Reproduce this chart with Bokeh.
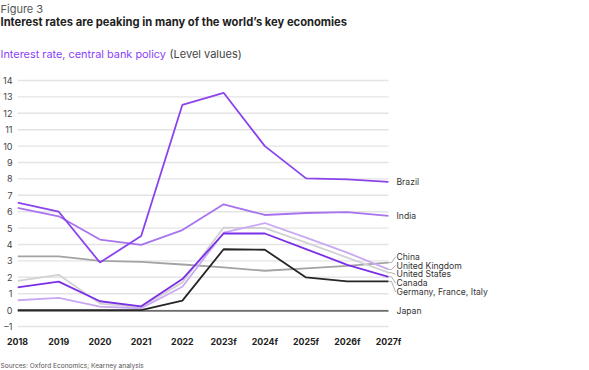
from bokeh.plotting import figure
from bokeh.layouts import column
from bokeh.models import Range1d, FixedTicker
from bokeh.core.properties import value
from bokeh.embed import file_html
from bokeh.resources import INLINE

# ---------------- data ----------------
years = [2018, 2019, 2020, 2021, 2022, 2023, 2024, 2025, 2026, 2027]
year_labels = ["2018", "2019", "2020", "2021", "2022", "2023f", "2024f", "2025f", "2026f", "2027f"]
y_ticks = [-1, 0, 1, 2, 3, 4, 5, 6, 7, 8, 9, 10, 11, 12, 13, 14]
y_tick_labels = ["\u20131", "0", "1", "2", "3", "4", "5", "6", "7", "8", "9", "10", "11", "12", "13", "14"]

brazil = [6.55, 6.0, 2.9, 4.52, 12.52, 13.25, 10.0, 8.03, 7.97, 7.82]
india = [6.24, 5.72, 4.3, 3.98, 4.88, 6.45, 5.8, 5.92, 5.98, 5.74]
china = [3.27, 3.27, 3.0, 2.94, 2.78, 2.6, 2.4, 2.55, 2.7, 2.9]
united_kingdom = [0.6, 0.74, 0.21, 0.11, 1.42, 4.72, 5.31, 4.42, 3.5, 2.48]
united_states = [1.78, 2.15, 0.4, 0.17, 1.69, 5.03, 5.0, 4.12, 3.2, 2.28]
canada = [1.38, 1.74, 0.54, 0.23, 1.89, 4.67, 4.67, 3.72, 2.76, 2.03]
germany_france_italy = [0.0, 0.0, 0.0, 0.0, 0.58, 3.71, 3.68, 1.99, 1.75, 1.75]
japan = [-0.05, -0.05, -0.05, -0.05, -0.05, -0.05, -0.05, -0.05, -0.05, -0.05]

series_names = ["Brazil", "India", "China", "United Kingdom", "United States",
                "Canada", "Germany, France, Italy", "Japan"]
series_values = [brazil, india, china, united_kingdom, united_states,
                 canada, germany_france_italy, japan]

figure_label = "Figure 3"
title_text = "Interest rates are peaking in many of the world\u2019s key economies"
subtitle_main = "Interest rate, central bank policy"
subtitle_unit = "(Level values)"
source_text = "Sources: Oxford Economics; Kearney analysis"

# ---------------- style ----------------
FONT = "Inter"
colors = {
    "Brazil": "#8b43ec",
    "India": "#a873ee",
    "China": "#a3a3a3",
    "United Kingdom": "#c9a8f4",
    "United States": "#d2d2d2",
    "Canada": "#7a2fe6",
    "Germany, France, Italy": "#262626",
    "Japan": "#6e6e6e",
}
draw_order = ["Japan", "China", "United States", "United Kingdom",
              "Germany, France, Italy", "Canada", "India", "Brazil"]

W = 589
HEAD_H, CHART_H, FOOT_H = 62, 290, 18


def no_frame_align(f):
    try:
        f.frame_align = False
    except Exception:
        pass


def blank(height):
    f = figure(width=W, height=height, output_backend="svg", toolbar_location=None,
               x_range=Range1d(0, W), y_range=Range1d(height, 0),
               x_axis_type=None, y_axis_type=None,
               min_border_left=0, min_border_right=0, min_border_top=0, min_border_bottom=0)
    f.outline_line_color = None
    f.background_fill_color = "white"
    f.border_fill_color = "white"
    no_frame_align(f)
    return f


# ---------------- header ----------------
head = blank(HEAD_H)
head.text(x=[0], y=[8], text=[figure_label], text_font=value(FONT), text_font_size="11px",
          text_color="#555555", text_baseline="middle")
head.text(x=[0], y=[21], text=[title_text], text_font=value(FONT), text_font_size="11.2px",
          text_font_style="bold", text_color="#1e1e1e", text_baseline="middle")
head.text(x=[0], y=[53], text=[subtitle_main], text_font=value(FONT), text_font_size="10.9px",
          text_color="#8a3ffc", text_baseline="middle")
head.text(x=[169], y=[53], text=[subtitle_unit], text_font=value(FONT), text_font_size="11px",
          text_color="#444444", text_baseline="middle")

# ---------------- chart ----------------
FRAME_LEFT = 17
FRAME_BOTTOM = 270
PX_PER_YEAR = (388 - 17) / 9.0
PX_PER_UNIT = 16.4
x_end = years[-1] + (W - 388) / PX_PER_YEAR
y_start = -1 - (FRAME_BOTTOM - 264) / PX_PER_UNIT
y_end = 14 + 18 / PX_PER_UNIT

p = figure(width=W, height=CHART_H, output_backend="svg", toolbar_location=None,
           x_range=Range1d(years[0], x_end), y_range=Range1d(y_start, y_end),
           min_border_left=FRAME_LEFT, min_border_right=0, min_border_top=0,
           min_border_bottom=CHART_H - FRAME_BOTTOM)
p.outline_line_color = None
p.background_fill_color = "white"
p.border_fill_color = "white"
p.grid.visible = False
no_frame_align(p)

p.xaxis.ticker = FixedTicker(ticks=years)
p.xaxis.major_label_overrides = {y: l for y, l in zip(years, year_labels)}
p.yaxis.ticker = FixedTicker(ticks=y_ticks)
p.yaxis.major_label_overrides = {t: l for t, l in zip(y_ticks, y_tick_labels)}
for ax in (p.xaxis, p.yaxis):
    ax.axis_line_color = None
    ax.major_tick_line_color = None
    ax.minor_tick_line_color = None
    ax.major_tick_out = 0
    ax.major_tick_in = 0
    ax.major_label_text_font = FONT
p.xaxis.major_label_text_font_size = "8.8px"
p.xaxis.major_label_standoff = 3
p.xaxis.major_label_text_font_style = "bold"
p.xaxis.major_label_text_color = "#222222"
p.yaxis.major_label_text_font_size = "9px"
p.yaxis.major_label_standoff = 5
p.yaxis.major_label_text_color = "#444444"

# horizontal grid lines spanning the data years only
p.segment(x0=[years[0]] * len(y_ticks), x1=[years[-1]] * len(y_ticks),
          y0=y_ticks, y1=y_ticks, line_color="#e4e4e4", line_width=1.4)

data = dict(zip(series_names, series_values))
for name in draw_order:
    p.line(years, data[name], line_color=colors[name], line_width=1.8)

# end labels
px = 1.0 / PX_PER_YEAR
py = 1.0 / PX_PER_UNIT
label_x = years[-1] + 8 * px
group = ["China", "United Kingdom", "United States", "Canada", "Germany, France, Italy"]
label_y = {"Brazil": brazil[-1] - 0.02, "India": india[-1], "Japan": japan[-1]}
top_group = 3.25
for i, n in enumerate(group):
    label_y[n] = top_group - i * 8.75 * py

for n in group:
    v = data[n][-1]
    p.line([years[-1], years[-1] + 3 * px, years[-1] + 7 * px],
           [v, v, label_y[n]], line_color="#9a9a9a", line_width=0.8)

p.text(x=[label_x] * len(series_names), y=[label_y[n] for n in series_names],
       text=series_names, text_font=value(FONT), text_font_size="8.6px",
       text_color="#333333", text_baseline="middle", text_align="left")

# ---------------- footer ----------------
foot = blank(FOOT_H)
foot.text(x=[0], y=[13], text=[source_text], text_font=value(FONT), text_font_size="6.6px",
          text_color="#555555", text_baseline="middle")

layout = column(head, p, foot, spacing=0)
open("out.html", "w").write(file_html(layout, INLINE))
